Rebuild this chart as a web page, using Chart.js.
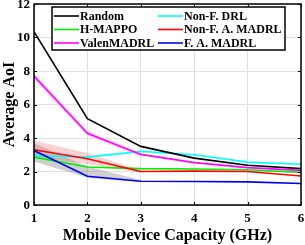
<!DOCTYPE html>
<html lang="en">
<head>
<meta charset="UTF-8">
<title>Average AoI vs Mobile Device Capacity</title>
<script src="https://cdn.jsdelivr.net/npm/chart.js"></script>
<style>
  html, body { margin: 0; padding: 0; background: #fff; }
</style>
</head>
<body>
<canvas id="aoiChart" width="305" height="245"></canvas>
<script>
// values
const capacity   = [1, 2, 3, 4, 5, 6];
const randomAoI  = [10.35, 5.15, 3.5, 2.8, 2.37, 2.17];
const hMappo     = [2.86, 2.27, 2.17, 2.15, 2.1, 1.95];
const valenMadrl = [7.7, 4.28, 3.02, 2.53, 2.23, 2.07];
const nonFDrl    = [2.95, 2.86, 3.2, 3.0, 2.56, 2.43];
const nonFAMadrl = [3.3, 2.76, 2.0, 2.02, 2.0, 1.73];
const fAMadrl    = [3.25, 1.72, 1.42, 1.4, 1.38, 1.28];

// shaded spread bands
const redBandLow   = [2.85, 2.45, 1.92];
const redBandHigh  = [3.85, 3.1, 2.08];
const grayBandLow  = [2.6, 1.62, 1.36];
const grayBandHigh = [3.7, 2.3, 1.5];
const pinkBandLow  = [7.5, 4.12, 2.9];
const pinkBandHigh = [7.9, 4.44, 3.14];

const yTicks = [0, 2, 4, 6, 8, 10, 12];
const xLabel = 'Mobile Device Capacity (GHz)';
const yLabel = 'Average AoI';

const serif = '"Liberation Serif", "Times New Roman", serif';

function pts(arr)
{
    return arr.map((v, i) => ({ x: capacity[i], y: v }));
}

function line(label, values, color, order)
{
    return {
        label: label,
        data: pts(values),
        borderColor: color,
        backgroundColor: color,
        borderWidth: 1.6,
        pointRadius: 0,
        fill: false,
        tension: 0,
        order: order,
        inLegend: true
    };
}

function band(values, fill, color)
{
    return {
        label: '',
        data: pts(values),
        borderWidth: 0,
        borderColor: 'rgba(0,0,0,0)',
        backgroundColor: color,
        pointRadius: 0,
        fill: fill,
        tension: 0,
        order: 20
    };
}

const datasets = [
    band(redBandLow, false, 'rgba(0,0,0,0)'),
    band(redBandHigh, '-1', 'rgba(235,110,110,0.3)'),
    band(grayBandLow, false, 'rgba(0,0,0,0)'),
    band(grayBandHigh, '-1', 'rgba(120,120,120,0.35)'),
    band(pinkBandLow, false, 'rgba(0,0,0,0)'),
    band(pinkBandHigh, '-1', 'rgba(255,120,255,0.25)'),
    line('Random', randomAoI, '#000000', 6),
    line('H-MAPPO', hMappo, '#00ee00', 4),
    line('ValenMADRL', valenMadrl, '#ff00ff', 5),
    line('Non-F. DRL', nonFDrl, '#00ffff', 7),
    line('Non-F. A. MADRL', nonFAMadrl, '#ff0000', 2),
    line('F. A. MADRL', fAMadrl, '#0000ee', 1)
];

const frameTicks = {
    id: 'frameTicks',
    afterDraw(chart)
    {
        const ctx = chart.ctx;
        const a = chart.chartArea;
        const sx = chart.scales.x, sy = chart.scales.y;
        ctx.save();
        ctx.strokeStyle = '#000';
        ctx.lineWidth = 1;
        ctx.beginPath();
        sx.ticks.forEach(t =>
        {
            const px = Math.round(sx.getPixelForValue(t.value)) + 0.5;
            ctx.moveTo(px, a.bottom); ctx.lineTo(px, a.bottom - 3);
            ctx.moveTo(px, a.top); ctx.lineTo(px, a.top + 3);
        });
        sy.ticks.forEach(t =>
        {
            const py = Math.round(sy.getPixelForValue(t.value)) + 0.5;
            ctx.moveTo(a.left, py); ctx.lineTo(a.left + 3, py);
            ctx.moveTo(a.right, py); ctx.lineTo(a.right - 3, py);
        });
        ctx.stroke();
        ctx.lineWidth = 1.5;
        ctx.strokeRect(a.left, a.top, a.right - a.left, a.bottom - a.top);

        // y tick labels, placed through the y scale (the top one was getting lost)
        ctx.fillStyle = '#000';
        ctx.font = 'bold 13px ' + serif;
        ctx.textAlign = 'right';
        ctx.textBaseline = 'middle';
        yTicks.forEach(v =>
        {
            ctx.fillText(String(v), a.left - 4, sy.getPixelForValue(v) + 0.5);
        });

        // legend box, two columns of three
        const items = chart.data.datasets.filter(d => d.inLegend);
        const bx = 52, by = 7, bw = 233, bh = 43;
        ctx.fillStyle = '#fff';
        ctx.fillRect(bx, by, bw, bh);
        ctx.lineWidth = 1.5;
        ctx.strokeStyle = '#000';
        ctx.strokeRect(bx, by, bw, bh);
        ctx.font = 'bold 12px ' + serif;
        ctx.textBaseline = 'middle';
        ctx.textAlign = 'left';
        items.forEach((d, i) =>
        {
            const col = Math.floor(i / 3), row = i % 3;
            const x0 = col === 0 ? 54 : 158;
            const y0 = 16 + row * 13.5;
            ctx.strokeStyle = d.borderColor;
            ctx.lineWidth = 1.6;
            ctx.beginPath();
            ctx.moveTo(x0, y0); ctx.lineTo(x0 + 25, y0);
            ctx.stroke();
            ctx.fillStyle = '#000';
            ctx.fillText(d.label, x0 + 26, y0 + 0.5);
        });
        ctx.restore();
    }
};

new Chart(document.getElementById('aoiChart').getContext('2d'),
{
    type: 'line',
    data: { datasets: datasets },
    options:
    {
        responsive: false,
        animation: false,
        devicePixelRatio: 1,
        layout: { padding: { top: 0, right: 4, left: 0, bottom: 0 } },
        plugins: { legend: { display: false }, tooltip: { enabled: false } },
        scales:
        {
            x:
            {
                type: 'linear',
                min: 1, max: 6,
                afterFit(s) { s.height = 40; s.paddingLeft = 0; s.paddingRight = 0; },
                ticks: { stepSize: 1, padding: 6, color: '#000', font: { family: serif, size: 13, weight: 'bold' } },
                grid: { color: '#e0e0e0', drawTicks: false },
                title: { display: true, text: xLabel, color: '#000', padding: 0, font: { family: serif, size: 16, weight: 'bold' } }
            },
            y:
            {
                min: 0, max: 12,
                afterFit(s) { s.width = 34; s.paddingTop = 4; s.paddingBottom = 0; },
                afterBuildTicks(s) { s.ticks = yTicks.map(v => ({ value: v })); },
                ticks: { display: false },
                grid: { color: '#e0e0e0', drawTicks: false },
                title: { display: true, text: yLabel, color: '#000', padding: 0, font: { family: serif, size: 16, weight: 'bold' } }
            }
        }
    },
    plugins: [frameTicks]
});
</script>
</body>
</html>
